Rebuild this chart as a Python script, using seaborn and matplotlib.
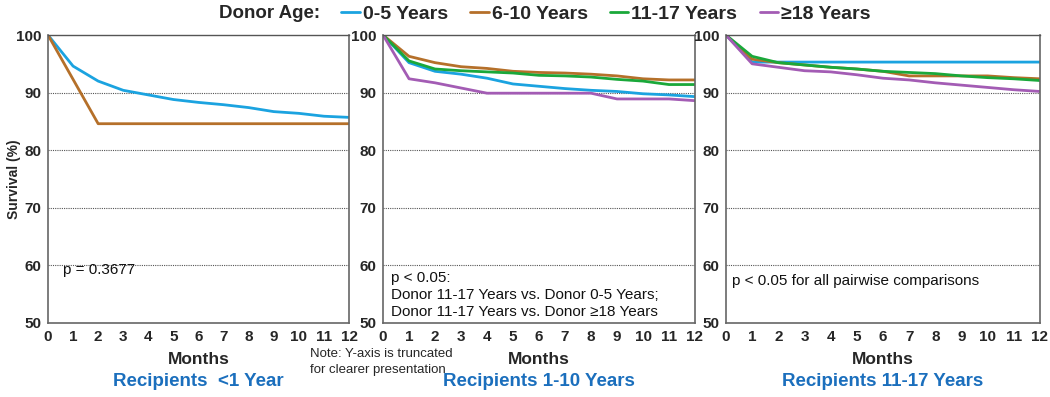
import numpy as np
import pandas as pd
import seaborn as sns
import matplotlib.pyplot as plt
from matplotlib.lines import Line2D

sns.set_theme(style="white")
plt.rcParams["font.family"] = ["Liberation Sans", "DejaVu Sans"]

# data (survival %, months 0-12)
months = list(range(13))
groups = ["0-5 Years", "6-10 Years", "11-17 Years", "\u226518 Years"]
colors = ["#1ba3e0", "#b5702a", "#1aa83a", "#a35cb4"]

p1_05 = [100, 94.6, 92.0, 90.4, 89.6, 88.8, 88.3, 87.9, 87.4, 86.7, 86.4, 85.9, 85.7]
p1_610 = [100, 92.3, 84.6, 84.6, 84.6, 84.6, 84.6, 84.6, 84.6, 84.6, 84.6, 84.6, 84.6]

p2_05 = [100, 95.2, 93.7, 93.2, 92.5, 91.5, 91.1, 90.7, 90.4, 90.2, 89.8, 89.6, 89.3]
p2_610 = [100, 96.3, 95.2, 94.5, 94.2, 93.7, 93.5, 93.4, 93.2, 92.9, 92.4, 92.2, 92.2]
p2_1117 = [100, 95.5, 94.1, 93.8, 93.6, 93.4, 93.0, 92.9, 92.7, 92.3, 92.0, 91.4, 91.4]
p2_18 = [100, 92.4, 91.7, 90.8, 89.9, 89.9, 89.9, 89.9, 89.9, 88.9, 88.9, 88.9, 88.6]

p3_05 = [100, 95.3, 95.3, 95.3, 95.3, 95.3, 95.3, 95.3, 95.3, 95.3, 95.3, 95.3, 95.3]
p3_610 = [100, 95.8, 95.2, 94.8, 94.4, 94.1, 93.7, 92.9, 92.9, 92.9, 92.9, 92.6, 92.4]
p3_1117 = [100, 96.3, 95.2, 94.8, 94.4, 94.1, 93.7, 93.5, 93.3, 92.9, 92.6, 92.4, 92.1]
p3_18 = [100, 95.0, 94.4, 93.8, 93.6, 93.1, 92.5, 92.2, 91.7, 91.3, 90.9, 90.5, 90.2]

panels = [
    {"series": [p1_05, p1_610], "title": "Recipients  <1 Year",
     "note": "p = 0.3677", "note_xy": (0.05, 0.185)},
    {"series": [p2_05, p2_610, p2_1117, p2_18], "title": "Recipients 1-10 Years",
     "note": "p < 0.05:\nDonor 11-17 Years vs. Donor 0-5 Years;\nDonor 11-17 Years vs. Donor \u226518 Years",
     "note_xy": (0.025, 0.097)},
    {"series": [p3_05, p3_610, p3_1117, p3_18], "title": "Recipients 11-17 Years",
     "note": "p < 0.05 for all pairwise comparisons", "note_xy": (0.02, 0.145)},
]

fig = plt.figure(figsize=(10.5, 3.97), dpi=100)
boxes = [(0.0457, 0.2867), (0.3648, 0.2971), (0.6914, 0.2990)]
bottom, height = 0.1864, 0.7254
title_blue = "#1b6fbd"
spine_col = "#666666"

for i, (panel, (left, width)) in enumerate(zip(panels, boxes)):
    ax = fig.add_axes([left, bottom, width, height])
    rows = []
    for g, vals in zip(groups, panel["series"]):
        for m, v in zip(months, vals):
            rows.append({"month": m, "survival": v, "group": g})
    df = pd.DataFrame(rows)
    used = groups[:len(panel["series"])]
    sns.lineplot(data=df, x="month", y="survival", hue="group", hue_order=used,
                 palette=colors[:len(used)], linewidth=2, ax=ax, legend=False)
    ax.set_xlim(0, 12)
    ax.set_ylim(50, 100)
    ax.set_xticks(months)
    ax.set_yticks([50, 60, 70, 80, 90, 100])
    for y in [60, 70, 80, 90]:
        ax.axhline(y, color="#555555", linestyle=(0, (1, 1)), linewidth=0.8, zorder=0)
    for s in ["left", "bottom", "right"]:
        ax.spines[s].set_color(spine_col)
        ax.spines[s].set_linewidth(1.2)
    ax.spines["top"].set_color("#555555")
    ax.spines["top"].set_linestyle((0, (1, 1)))
    ax.spines["top"].set_linewidth(1.0)
    ax.tick_params(axis="both", direction="inout", length=4, width=1, color=spine_col,
                   labelsize=11, pad=3)
    for lab in ax.get_xticklabels() + ax.get_yticklabels():
        lab.set_fontweight("bold")
    ax.set_xlabel("Months", fontsize=12.5, fontweight="bold", labelpad=6)
    if i == 0:
        ax.set_ylabel("Survival (%)", fontsize=10, fontweight="bold")
        ax.yaxis.set_label_coords(-0.09, 0.5)
    else:
        ax.set_ylabel("")
    ax.text(0.5, -0.202, panel["title"], transform=ax.transAxes, ha="center",
            va="center", fontsize=13.5, fontweight="bold", color=title_blue)
    ax.text(panel["note_xy"][0], panel["note_xy"][1], panel["note"],
            transform=ax.transAxes, ha="left", va="center", fontsize=11,
            linespacing=1.25, color="#111111")

fig.text(0.295, 0.088, "Note: Y-axis is truncated\nfor clearer presentation",
         ha="left", va="center", fontsize=9.5, linespacing=1.5)

fig.text(0.209, 0.965, "Donor Age:", ha="left", va="center", fontsize=13.5,
         fontweight="bold")
handles = [Line2D([], [], color=c, linewidth=2) for c in colors]
leg = fig.legend(handles, groups, loc="center left", bbox_to_anchor=(0.314, 0.965),
                 ncol=4, frameon=False, handlelength=0.95, handletextpad=0.15,
                 columnspacing=1.15, borderpad=0.1, prop={"size": 14, "weight": "bold"})

fig.savefig("out.png", dpi=100)
